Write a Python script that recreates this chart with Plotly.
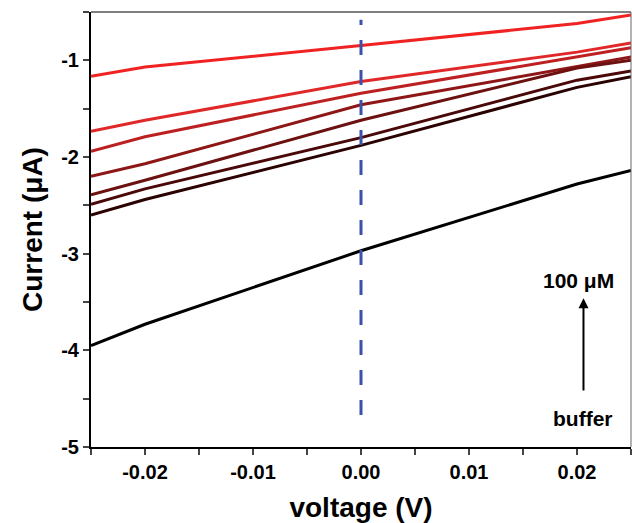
import plotly.graph_objects as go

# voltage sweep points (V)
voltage = [-0.025, -0.02, 0.0, 0.02, 0.025]

# current traces (uA), from 100 uM (top) down to buffer (bottom)
curves = [
    [-1.164, -1.07, -0.846, -0.62, -0.53],
    [-1.735, -1.62, -1.22, -0.915, -0.82],
    [-1.94, -1.79, -1.34, -0.966, -0.87],
    [-2.20, -2.07, -1.46, -1.06, -0.966],
    [-2.39, -2.24, -1.62, -1.08, -1.00],
    [-2.49, -2.33, -1.80, -1.205, -1.11],
    [-2.60, -2.44, -1.88, -1.28, -1.17],
    [-3.95, -3.73, -2.97, -2.28, -2.14],
]
colors = ["#f02222", "#e02828", "#bc2020", "#8e1616", "#6c1010", "#4a0808", "#2a0202", "#000000"]

zero_line_y = [-4.67, -0.58]

x_ticks = [-0.02, -0.01, 0.0, 0.01, 0.02]
x_labels = ["-0.02", "-0.01", "0.00", "0.01", "0.02"]
y_ticks = [-5, -4, -3, -2, -1]
y_labels = ["-5", "-4", "-3", "-2", "-1"]

fig = go.Figure()
for ys, c in zip(curves, colors):
    fig.add_trace(go.Scatter(x=voltage, y=ys, mode="lines",
                             line=dict(color=c, width=3), showlegend=False))

fig.add_trace(go.Scatter(x=[0, 0], y=zero_line_y, mode="lines",
                         line=dict(color="#3a52a8", width=3, dash="15px,15px"),
                         showlegend=False))

font = "Liberation Sans, Arial, sans-serif"
fig.update_xaxes(range=[-0.025, 0.025], tickvals=x_ticks, ticktext=x_labels,
                 showline=True, linewidth=2, linecolor="black", showgrid=False,
                 zeroline=False, ticks="outside", ticklen=6, tickwidth=2,
                 minor=dict(dtick=0.005, ticks="outside", ticklen=6, tickwidth=2),
                 tickfont=dict(family=font, size=20, color="black", weight="bold"),
                 title=dict(text="voltage (V)", standoff=16,
                            font=dict(family=font, size=28, color="black", weight="bold")))
fig.update_yaxes(range=[-5, -0.5], tickvals=y_ticks, ticktext=y_labels,
                 showline=True, linewidth=2, linecolor="black", showgrid=False,
                 zeroline=False, ticks="outside", ticklen=6, tickwidth=2,
                 minor=dict(dtick=0.5, ticks="outside", ticklen=6, tickwidth=2),
                 tickfont=dict(family=font, size=20, color="black", weight="bold"),
                 title=dict(text="Current (μA)", standoff=10,
                            font=dict(family=font, size=28, color="black", weight="bold")))

# thin top/right frame
fig.add_shape(type="line", xref="paper", yref="paper", x0=0, x1=1, y0=1, y1=1,
              line=dict(color="black", width=1))
fig.add_shape(type="line", xref="paper", yref="paper", x0=1, x1=1, y0=0, y1=1,
              line=dict(color="#666666", width=1))

fig.add_annotation(x=0.0206, y=-3.46, ax=0.0206, ay=-4.43, xref="x", yref="y",
                   axref="x", ayref="y", text="", showarrow=True, arrowhead=2,
                   arrowsize=1, arrowwidth=2, arrowcolor="black")
fig.add_annotation(x=0.0201, y=-3.28, text="100 μM", showarrow=False,
                   font=dict(family=font, size=21, color="black", weight="bold"))
fig.add_annotation(x=0.0206, y=-4.71, text="buffer", showarrow=False,
                   font=dict(family=font, size=21, color="black", weight="bold"))

fig.update_layout(width=632, height=523, plot_bgcolor="white", paper_bgcolor="white",
                  margin=dict(l=91, r=1, t=12, b=76))
fig.write_html("out.html", config={"displayModeBar": False},
               post_script="document.body.style.margin='0px';")
